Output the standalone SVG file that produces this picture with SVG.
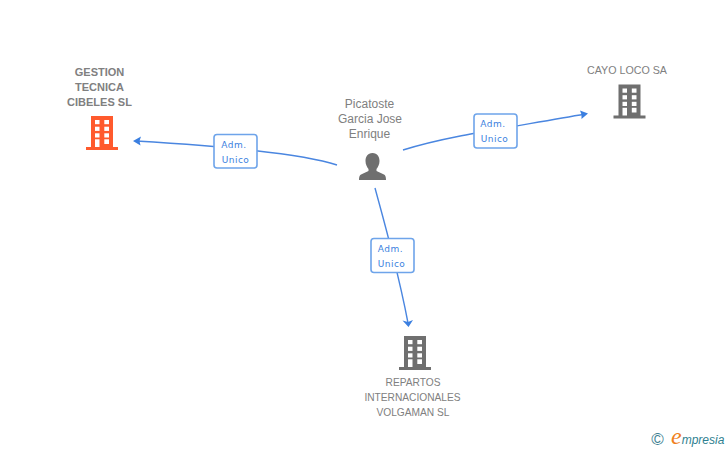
<svg xmlns="http://www.w3.org/2000/svg" width="728" height="450" viewBox="0 0 728 450">
<style>
.l{font-family:"Liberation Sans",Arial,sans-serif;font-size:10.5px;fill:#808080;text-anchor:middle}
.b{font-weight:bold;font-size:11px}
.t{font-family:"DejaVu Sans",sans-serif;font-size:9px;fill:#3b7fe0;text-anchor:middle;letter-spacing:.5px}
.e{fill:none;stroke:#4a86e0;stroke-width:1.4}
.box{fill:#fff;stroke:#6ea4ea;stroke-width:1.6}
.w{fill:#fff}
</style>
<defs>
<g id="bld">
<path d="M5 0H27V31H32V34H0V31H5Z"/>
<g class="w">
<rect x="9" y="4" width="4.500" height="4.200"/><rect x="18.300" y="4" width="4.700" height="4.200"/>
<rect x="9" y="10.700" width="4.500" height="4.200"/><rect x="18.300" y="10.700" width="4.700" height="4.200"/>
<rect x="9" y="17.300" width="4.500" height="4.200"/><rect x="18.300" y="17.300" width="4.700" height="4.200"/>
<rect x="9" y="23.300" width="4.500" height="7.700"/><rect x="18.300" y="23.300" width="4.700" height="4.700"/>
</g>
</g>
</defs>
<rect width="728" height="450" fill="#fff"/>
<g id="connectors">
<path class="e" d="M337 165C300 153 220 146 136 141"/>
<path d="M133 141L141 136.500L139.500 141L140.500 145.500Z" fill="#3b7fe0"/>
<path class="e" d="M403 150C450 135 520 126 585 114"/>
<path d="M588 113.500L580 110.500L581.500 114.500L581.500 119Z" fill="#3b7fe0"/>
<path class="e" d="M375 188C385 225 398 270 408 323"/>
<path d="M408.500 327L402.500 320.500L408 322L413 320Z" fill="#3b7fe0"/>
<g id="edge-labels">
<rect class="box" x="214" y="134.500" width="43" height="33.500" rx="3"/>
<text class="t" x="234" y="147.500">Adm.</text><text class="t" x="235.500" y="162.500">Unico</text>
<rect class="box" x="474" y="114" width="43" height="34" rx="3"/>
<text class="t" x="493" y="127">Adm.</text><text class="t" x="494.500" y="142">Unico</text>
<rect class="box" x="371" y="238.500" width="43" height="34" rx="3"/>
<text class="t" x="390.500" y="252">Adm.</text><text class="t" x="391.500" y="267">Unico</text>
</g>
</g>
<g id="node-gestion">
<text class="l b" x="99.500" y="75.500">GESTION</text>
<text class="l b" x="99.500" y="90.500">TECNICA</text>
<text class="l b" x="99.500" y="105.500">CIBELES SL</text>
<use href="#bld" x="86" y="116" fill="#ff5a2d"/>
</g>
<g id="node-person">
<text class="l" x="369.500" y="107.500" style="font-size:12px">Picatoste</text>
<text class="l" x="370" y="122.500" style="font-size:12px">Garcia Jose</text>
<text class="l" x="369.500" y="137.500" style="font-size:12px">Enrique</text>
<path fill="#6f6f6f" d="M372.500 153C377.500 153 379.500 157 379.500 161C379.500 164.500 378 167 376.500 169V171L384 174.500C385.500 175.500 386 177 386 180H359C359 177 359.500 175.500 361 174.500L368.500 171V169C367 167 365.500 164.500 365.500 161C365.500 157 367.500 153 372.500 153Z"/>
</g>
<g id="node-cayo">
<text class="l" x="627" y="74" style="font-size:10.700px">CAYO LOCO SA</text>
<use href="#bld" x="613.500" y="84.500" fill="#6f6f6f"/>
</g>
<g id="node-repartos">
<use href="#bld" x="399" y="336" fill="#6f6f6f"/>
<text class="l" x="413" y="386" style="font-size:10.200px">REPARTOS</text>
<text class="l" x="412.500" y="401" style="font-size:10.200px">INTERNACIONALES</text>
<text class="l" x="413" y="416" style="font-size:10.200px">VOLGAMAN SL</text>
</g>
<g id="logo">
<text x="657.500" y="445" font-family="Liberation Sans,sans-serif" font-size="17" fill="#3f7f92" text-anchor="middle">©</text>
<text x="671" y="444" font-family="Liberation Sans,sans-serif" font-style="italic" font-size="12" fill="#2f7f90"><tspan font-family="Liberation Serif,serif" font-size="24" fill="#f08020">e</tspan><tspan>mpresia</tspan></text>
</g>
</svg>
